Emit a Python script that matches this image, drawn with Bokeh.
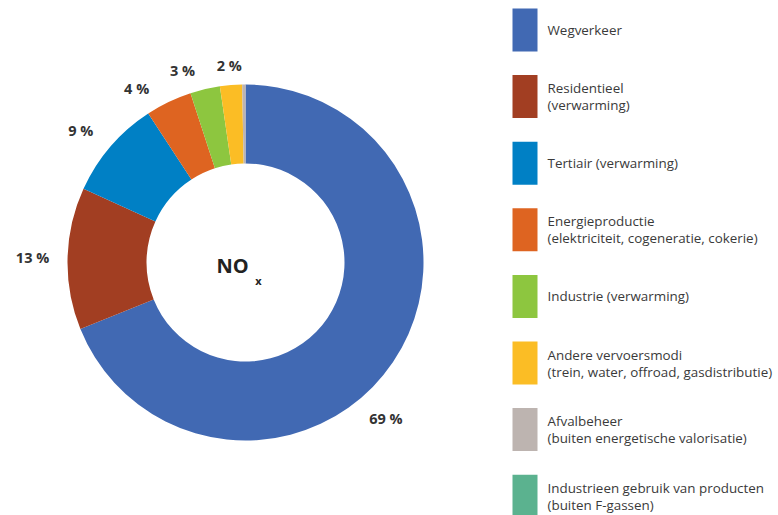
import math
from bokeh.plotting import figure
from bokeh.models import Range1d, ColumnDataSource
from bokeh.core.properties import value
from bokeh.embed import file_html
from bokeh.resources import INLINE

# ---- data ----
categories = [
    "Wegverkeer",
    "Residentieel\n(verwarming)",
    "Tertiair (verwarming)",
    "Energieproductie\n(elektriciteit, cogeneratie, cokerie)",
    "Industrie (verwarming)",
    "Andere vervoersmodi\n(trein, water, offroad, gasdistributie)",
    "Afvalbeheer\n(buiten energetische valorisatie)",
    "Industrieen gebruik van producten\n(buiten F-gassen)",
]
shares = [68.9, 12.9, 9.0, 4.2, 2.7, 2.0, 0.3, 0.0]
pct_labels = ["69 %", "13 %", "9 %", "4 %", "3 %", "2 %", "", ""]
colors = ["#4169B3", "#A23E22", "#0080C5", "#DE6421", "#8DC63F", "#FBBD25", "#BDB4B0", "#5BB28F"]

# ---- layout ----
W, H = 778, 515
def Y(img_y):  # image pixel row -> data y
    return H - img_y
def X(img_x):
    return img_x

cx, cy = X(245), Y(262)
r_out, r_in = 178, 99
label_r = [210, 213, 211, 205, 202, 198, 0, 0]
label_nudge = [14, 0, -2, -6.5, -5, 0, 0, 0]
FONT = "Open Sans"
TXT = "#3a3a3a"

p = figure(width=W, height=H, output_backend="svg", toolbar_location=None,
           x_range=Range1d(0, W), y_range=Range1d(0, H), min_border=0)
p.axis.visible = False
p.grid.visible = False
p.outline_line_color = None
p.background_fill_color = "white"
p.border_fill_color = "white"

total = sum(shares)
starts, ends, mids, cols = [], [], [], []
acc = 0.0
for s, c in zip(shares, colors):
    a0 = acc / total * 360.0
    acc += s
    a1 = acc / total * 360.0
    mids.append((a0 + a1) / 2)
    if s <= 0:
        continue
    starts.append(math.radians(90 - a0))
    ends.append(math.radians(90 - a1))
    cols.append(c)

src = ColumnDataSource(dict(start=starts, end=ends, color=cols))
p.annular_wedge(x=cx, y=cy, inner_radius=r_in, outer_radius=r_out,
                start_angle="start", end_angle="end", direction="clock",
                fill_color="color", line_color=None, source=src)

# percentage labels
lx, ly, lt = [], [], []
for i, t in enumerate(pct_labels):
    if not t:
        continue
    th = math.radians(mids[i] + label_nudge[i])
    lx.append(cx + label_r[i] * math.sin(th))
    ly.append(cy + label_r[i] * math.cos(th))
    lt.append(t)
p.text(x=lx, y=ly, text=lt, text_font=value(FONT), text_font_style="bold",
       text_font_size="14.5px", text_color="#333333", text_align="center", text_baseline="middle")

# centre title
p.text(x=[X(232)], y=[Y(265)], text=["NO"], text_font=value(FONT), text_font_style="bold",
       text_font_size="20px", text_color="#222222", text_align="center", text_baseline="middle")
p.text(x=[X(258)], y=[Y(280)], text=["x"], text_font=value(FONT), text_font_style="bold",
       text_font_size="11px", text_color="#222222", text_align="center", text_baseline="middle")

# legend
sq_x, sq_w, sq_h = X(524.5), 25, 43
step = 66.6
first = 29.5
rx, ry = [], []
tx, ty, tt = [], [], []
for i, c in enumerate(categories):
    yc = Y(first + i * step)
    rx.append(sq_x); ry.append(yc)
    lines = c.split("\n")
    n = len(lines)
    for j, ln in enumerate(lines):
        tx.append(X(547))
        ty.append(yc + (n - 1) * 8.5 - j * 17)
        tt.append(ln)
p.rect(x=rx, y=ry, width=sq_w, height=sq_h, fill_color=colors, line_color=None)
p.text(x=tx, y=ty, text=tt, text_font=value(FONT), text_font_size="13.4px",
       text_color=TXT, text_align="left", text_baseline="middle")

open("out.html", "w").write(file_html(p, INLINE))
